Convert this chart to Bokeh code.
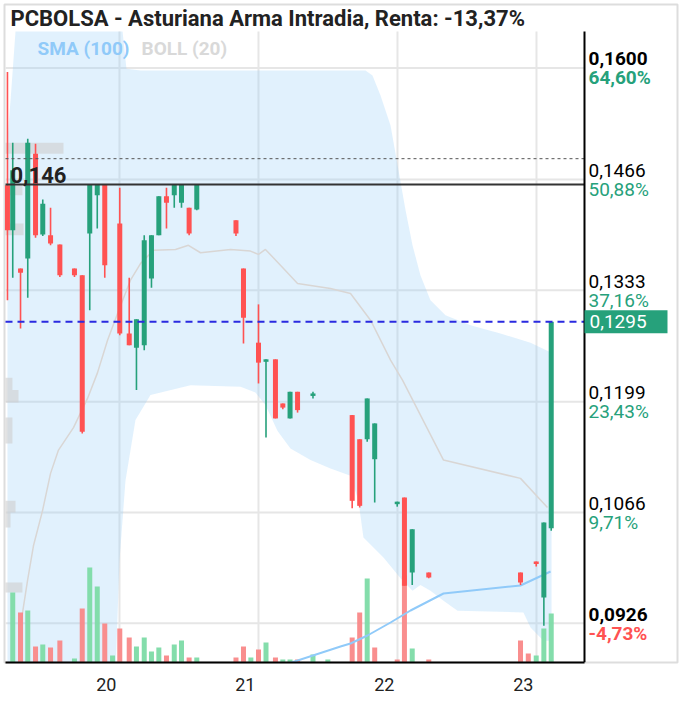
from bokeh.plotting import figure
from bokeh.models import (ColumnDataSource, Range1d, FixedTicker, Label,
                          CustomJSTickFormatter)
from bokeh.core.properties import value
from bokeh.embed import file_html
from bokeh.resources import INLINE

# ---------------- data ----------------
title_text = "PCBOLSA - Asturiana Arma Intradia, Renta: -13,37%"

# time in days (day number of the month)
times = [19.194, 19.232, 19.288, 19.340, 19.396, 19.448, 19.504, 19.571, 19.676, 19.732,
         19.786, 19.840, 19.894, 19.950, 20.002, 20.070, 20.122, 20.178, 20.230, 20.283,
         20.338, 20.394, 20.446, 20.501, 20.556, 20.838, 20.892, 20.945, 21.000, 21.054,
         21.122, 21.175, 21.227, 21.281, 21.392, 21.499, 21.674, 21.728, 21.782, 21.836,
         21.998, 22.050, 22.106, 22.225, 22.885, 22.941, 22.998, 23.053, 23.106]
opens = [0.1459, 0.1405, 0.1359, 0.1371, 0.1497, 0.1400, 0.1399, 0.1388, 0.1359, 0.1351,
         0.1401, 0.1447, 0.1460, 0.1460, 0.1413, 0.1281, 0.1264, 0.1267, 0.1347, 0.1399,
         0.1446, 0.1447, 0.1438, 0.1432, 0.1430, 0.1417, 0.1359, 0.1300, 0.1270, 0.1247,
         0.1250, 0.1197, 0.1179, 0.1211, 0.1206, 0.1209, 0.1183, 0.1154, 0.1154, 0.1130,
         0.1076, 0.1084, 0.0994, 0.0994, 0.0994, 0.0982, 0.1007, 0.0964, 0.1047]
highs = [0.1595, 0.1510, 0.1359, 0.1515, 0.1509, 0.1442, 0.1432, 0.1388, 0.1359, 0.1351,
         0.1460, 0.1460, 0.1460, 0.1460, 0.1456, 0.1348, 0.1298, 0.1399, 0.1399, 0.1446,
         0.1456, 0.1460, 0.1460, 0.1432, 0.1460, 0.1417, 0.1359, 0.1300, 0.1316, 0.1250,
         0.1250, 0.1197, 0.1211, 0.1211, 0.1211, 0.1209, 0.1183, 0.1154, 0.1203, 0.1173,
         0.1079, 0.1084, 0.1046, 0.0994, 0.0994, 0.0982, 0.1007, 0.1054, 0.1295]
lows = [0.1321, 0.1348, 0.1287, 0.1324, 0.1396, 0.1398, 0.1387, 0.1349, 0.1349, 0.1161,
        0.1309, 0.1407, 0.1348, 0.1460, 0.1279, 0.1267, 0.1213, 0.1261, 0.1336, 0.1399,
        0.1407, 0.1432, 0.1432, 0.1399, 0.1429, 0.1398, 0.1269, 0.1300, 0.1221, 0.1156,
        0.1179, 0.1190, 0.1179, 0.1186, 0.1203, 0.1209, 0.1071, 0.1072, 0.1151, 0.1078,
        0.1073, 0.0978, 0.0979, 0.0987, 0.0979, 0.0982, 0.1001, 0.0930, 0.1044]
closes = [0.1405, 0.1477, 0.1354, 0.1510, 0.1399, 0.1437, 0.1389, 0.1351, 0.1351, 0.1163,
          0.1460, 0.1460, 0.1363, 0.1460, 0.1281, 0.1267, 0.1298, 0.1393, 0.1399, 0.1446,
          0.1438, 0.1460, 0.1460, 0.1401, 0.1460, 0.1401, 0.1300, 0.1300, 0.1246, 0.1250,
          0.1179, 0.1192, 0.1211, 0.1189, 0.1209, 0.1209, 0.1080, 0.1074, 0.1203, 0.1173,
          0.1079, 0.0978, 0.1046, 0.0988, 0.0982, 0.0982, 0.1004, 0.1054, 0.1295]
volumes = [0, 70, 50, 52, 16, 18, 15, 22, 4, 54,
           95, 76, 39, 7, 34, 25, 16, 25, 11, 15,
           7, 18, 22, 5, 5, 5, 16, 5, 13, 20,
           5, 3, 3, 3, 8, 3, 25, 50, 84, 15,
           3, 87, 14, 3, 22, 9, 7, 34, 49]
volume_up = [1, 1, 0, 1, 0, 1, 0, 0, 1, 0,
             1, 1, 0, 1, 0, 0, 1, 1, 1, 1,
             0, 1, 1, 0, 1, 0, 0, 1, 0, 1,
             0, 1, 1, 0, 1, 1, 0, 0, 1, 0,
             0, 0, 1, 0, 0, 0, 1, 1, 1]

# Bollinger (20) band
boll_upper_t = [19.194, 19.216, 19.252, 19.280, 20.022, 20.050, 20.151, 21.770, 21.820, 21.878,
                21.950, 22.007, 22.058, 22.108, 22.165, 22.237, 22.345, 22.525, 22.741, 22.957,
                23.108]
boll_upper = [0.1513, 0.1561, 0.1644, 0.1669, 0.1669, 0.1599, 0.1597, 0.1597, 0.1591, 0.1567,
              0.1531, 0.1477, 0.1429, 0.1387, 0.1351, 0.1321, 0.1303, 0.1291, 0.1281, 0.1270,
              0.1258]
boll_lower_t = [19.194, 19.964, 20.000, 20.043, 20.115, 20.223, 20.511, 20.871, 20.978, 21.050,
                21.137, 21.230, 21.374, 21.518, 21.662, 21.719, 21.755, 21.899, 22.022, 22.108,
                22.165, 22.237, 22.331, 22.432, 22.906, 22.957, 23.050, 23.108]
boll_lower = [0.0840, 0.0840, 0.1008, 0.1104, 0.1177, 0.1207, 0.1219, 0.1217, 0.1210, 0.1195,
              0.1164, 0.1143, 0.1129, 0.1119, 0.1110, 0.1080, 0.1036, 0.1012, 0.0987, 0.0972,
              0.0979, 0.0972, 0.0960, 0.0948, 0.0946, 0.0928, 0.0912, 0.0912]
boll_mid_t = [19.288, 19.338, 19.381, 19.446, 19.504, 19.561, 19.669, 19.770, 19.842, 19.914,
              19.986, 20.079, 20.151, 20.245, 20.403, 20.496, 20.583, 20.799, 20.942, 21.000,
              21.050, 21.158, 21.281, 21.518, 21.662, 21.806, 21.950, 22.036, 22.331, 22.885,
              23.079]
boll_mid = [0.0930, 0.0984, 0.1026, 0.1068, 0.1113, 0.1141, 0.1168, 0.1203, 0.1234, 0.1273,
            0.1305, 0.1345, 0.1365, 0.1381, 0.1382, 0.1387, 0.1378, 0.1382, 0.1380, 0.1376,
            0.1382, 0.1363, 0.1341, 0.1335, 0.1329, 0.1297, 0.1249, 0.1225, 0.1129, 0.1107,
            0.1072]
# SMA (100) (volume scale)
sma_t = [21.216, 21.590, 21.662, 21.784, 21.950, 22.094, 22.331, 22.885, 23.101]
sma_v = [-1, 16, 19, 27, 40, 52, 69, 77, 91]

# volume-by-price profile
profile_low = [0.1497, 0.1447, 0.1399, 0.1213, 0.1198, 0.1149, 0.1066, 0.1048, 0.0970]
profile_high = [0.1510, 0.1459, 0.1413, 0.1228, 0.1213, 0.1180, 0.1080, 0.1066, 0.0982]
profile_len = [0.417, 0.122, 0.130, 0.050, 0.094, 0.050, 0.072, 0.036, 0.122]

day_ticks = [20, 21, 22, 23]
price_ticks = [0.1600, 0.1466, 0.1333, 0.1199, 0.1066, 0.0933]
price_tick_text = ["0,1600", "0,1466", "0,1333", "0,1199", "0,1066", "0,0926"]
pct_tick_text = ["64,60%", "50,88%", "37,16%", "23,43%", "9,71%", "-4,73%"]

last_price = 0.1295
last_price_text = "0,1295"
ref_line = 0.1460
ref_line_text = "0,146"
dotted_line = 0.1491
legend_items = ["SMA (100)", "BOLL (20)"]

# ---------------- layout constants ----------------
X0, X1 = 19.1727, 24.0144          # whole frame
XS, XE = 19.1799, 23.3453          # price area (left edge / price axis)
Y0, Y1 = 0.088582, 0.167621        # whole frame
YT = 0.164378                      # top of price area
PX_DAY = 139.0                     # pixels per day
PX_PRICE = 8325.0                  # pixels per price unit

GREEN = "#26a17b"
RED = "#ff5252"
VGREEN = "#7ddba6"
VRED = "#f98888"
GRID = "#e6e6e6"
FONT = "Roboto"
F = value(FONT)

W, H = 681, 701
p = figure(width=W, height=H, output_backend="svg", toolbar_location=None,
           x_range=Range1d(X0, X1), y_range=Range1d(Y0, Y1),
           y_axis_location=None, min_border_left=4, min_border_right=4,
           min_border_top=4, min_border_bottom=39)
p.extra_y_ranges = {"vol": Range1d(0, 658)}
p.outline_line_color = "#dddddd"
p.outline_line_width = 2
p.background_fill_color = "white"
p.border_fill_color = "white"
p.xgrid.visible = False
p.ygrid.visible = False

# x axis (labels centred a little before each day boundary)
xa = p.xaxis[0]
xa.bounds = (XS, XE)
xa.ticker = FixedTicker(ticks=[d - 0.095 for d in day_ticks])
xa.formatter = CustomJSTickFormatter(code="return String(Math.round(tick));")
xa.major_tick_line_color = None
xa.minor_tick_line_color = None
xa.axis_line_color = "black"
xa.axis_line_width = 2
xa.major_label_text_font = FONT
xa.major_label_text_font_size = "18px"
xa.major_label_text_color = "#222222"
xa.major_label_standoff = 9

# grid lines (limited to the price area)
p.segment(x0=day_ticks, x1=day_ticks, y0=[Y0] * 4, y1=[YT] * 4,
          line_color=GRID, line_width=2)
p.segment(x0=[XS] * len(price_ticks), x1=[XE] * len(price_ticks), y0=price_ticks,
          y1=price_ticks, line_color=GRID, line_width=2)

# Bollinger band
band_x = boll_upper_t + boll_lower_t[::-1]
band_y = [min(v, YT) for v in boll_upper] + boll_lower[::-1]
p.patch(band_x, band_y, fill_color="#90caf9", fill_alpha=0.27, line_color=None)
p.line(boll_mid_t, boll_mid, line_color="#d9d6d4", line_width=1.5)

# profile
p.quad(left=[XS] * len(profile_len), right=[XS + l for l in profile_len],
       bottom=profile_low, top=profile_high, fill_color="#cfcfcf", fill_alpha=0.6,
       line_color=None)

# volume
vsrc = ColumnDataSource(dict(t=times, v=volumes,
                             c=[VGREEN if u else VRED for u in volume_up]))
p.vbar(x="t", top="v", bottom=0, width=0.036, fill_color="c", line_color=None,
       fill_alpha=0.95, source=vsrc, y_range_name="vol")
p.line(sma_t, sma_v, line_color="#90caf9", line_width=2, y_range_name="vol")

# candles
ccol = [GREEN if c >= o else RED for o, c in zip(opens, closes)]
csrc = ColumnDataSource(dict(t=times, o=opens, h=highs, l=lows, c=closes,
                             top=[max(o, c) for o, c in zip(opens, closes)],
                             bot=[min(o, c) for o, c in zip(opens, closes)],
                             col=ccol))
p.segment(x0="t", y0="l", x1="t", y1="h", line_color="col", line_width=1.6, source=csrc)
p.vbar(x="t", top="top", bottom="bot", width=0.036, fill_color="col", line_color=None,
       source=csrc)

# horizontal reference lines
p.segment(x0=[XS], x1=[XE], y0=[dotted_line], y1=[dotted_line], line_color="#555555",
          line_width=1, line_dash="3 3")
p.segment(x0=[XS], x1=[XE], y0=[ref_line], y1=[ref_line], line_color="#333333",
          line_width=2)
p.segment(x0=[XS], x1=[XE], y0=[last_price], y1=[last_price], line_color="#2a2ae0",
          line_width=2, line_dash="7 5")
p.add_layout(Label(x=XS + 5 / PX_DAY, y=ref_line, y_offset=1, text=ref_line_text,
                   text_baseline="bottom", text_font=FONT, text_font_size="22px",
                   text_font_style="bold", text_color="#222222"))

# price axis line
p.segment(x0=[XE], x1=[XE], y0=[Y0], y1=[YT], line_color="black", line_width=2)

# price axis labels (price above, change below)
n = len(price_ticks)
styles = ["bold" if i in (0, n - 1) else "normal" for i in range(n)]
p.text(x=[XE] * n, y=price_ticks, text=price_tick_text, x_offset=4, y_offset=-9,
       text_baseline="middle", text_font=F, text_font_size="19px",
       text_font_style=styles, text_color="black")
p.text(x=[XE] * n, y=price_ticks, text=pct_tick_text, x_offset=4, y_offset=10,
       text_baseline="middle", text_font=F, text_font_size="19px",
       text_font_style=styles,
       text_color=[RED if t.startswith("-") else GREEN for t in pct_tick_text])

# last price tag
half = 11.5 / PX_PRICE
p.quad(left=[XE], right=[XE + 83 / PX_DAY], bottom=[last_price - half],
       top=[last_price + half], fill_color=GREEN, line_color=None)
p.text(x=[XE], y=[last_price], text=[last_price_text], x_offset=5, text_baseline="middle",
       text_font=F, text_font_size="19px", text_color="white")

# legend
y_leg = YT - 17 / PX_PRICE
p.text(x=[XS + 32 / PX_DAY, XS + 136 / PX_DAY], y=[y_leg, y_leg], text=legend_items,
       text_baseline="middle", text_font=F, text_font_size="19px",
       text_font_style="bold", text_color=["#90caf9", "#d9d9d9"])

# title
p.text(x=[XS + 5 / PX_DAY], y=[YT + 13 / PX_PRICE], text=[title_text],
       text_baseline="middle", text_font=F, text_font_size="22px",
       text_font_style="bold", text_color="#222222")

open("out.html", "w").write(file_html(p, INLINE))
